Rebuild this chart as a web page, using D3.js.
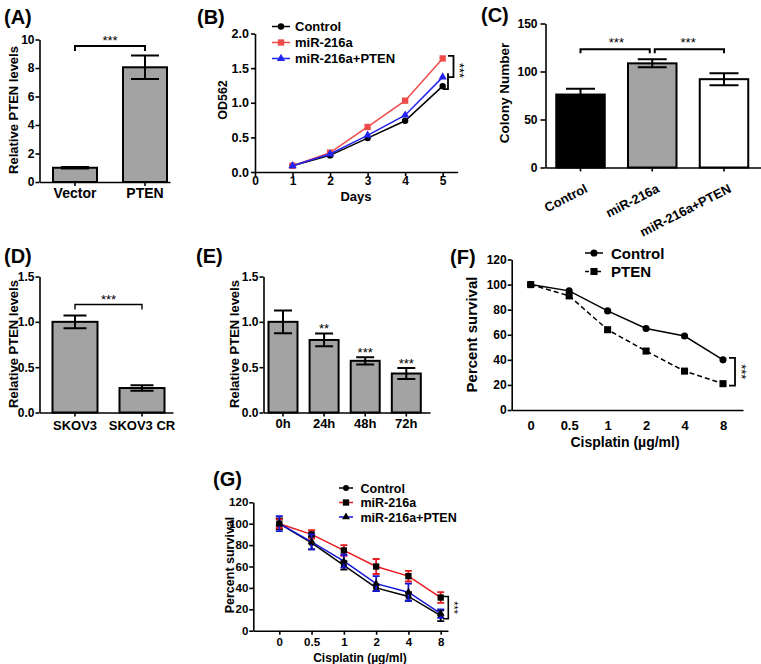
<!DOCTYPE html>
<html><head><meta charset="utf-8">
<script src="https://cdn.jsdelivr.net/npm/d3@7"></script>
<style>body{margin:0;background:#fff} svg{display:block}</style>
</head><body><svg id="c" width="761" height="664"></svg>
<script>
// ---------------- data ----------------
const aCats = ["Vector", "PTEN"];
const aVals = [1.0, 8.05];
const aErr = [0.05, 0.82];
const aTicks = [0, 2, 4, 6, 8, 10];

const bDays = [1, 2, 3, 4, 5];
const bControl = [0.09, 0.24, 0.49, 0.74, 1.24];
const bMiR = [0.09, 0.28, 0.65, 1.03, 1.64];
const bMiRPten = [0.09, 0.26, 0.53, 0.82, 1.37];
const bTicksY = [0, 0.5, 1.0, 1.5, 2.0];
const bTicksX = [0, 1, 2, 3, 4, 5];
const bSeriesNames = ["Control", "miR-216a", "miR-216a+PTEN"];

const cCats = ["Control", "miR-216a", "miR-216a+PTEN"];
const cVals = [76, 108.5, 92];
const cErr = [6, 4.2, 6.3];
const cTicks = [0, 50, 100, 150];

const dCats = ["SKOV3", "SKOV3 CR"];
const dVals = [1.0, 0.27];
const dErr = [0.07, 0.03];
const dTicks = [0, 0.5, 1.0, 1.5];

const eCats = ["0h", "24h", "48h", "72h"];
const eVals = [1.0, 0.80, 0.57, 0.43];
const eErr = [0.125, 0.07, 0.04, 0.06];
const eStars = ["", "**", "***", "***"];

const fDoses = ["0", "0.5", "1", "2", "4", "8"];
const fControl = [100, 95, 79, 65, 59, 40];
const fPten = [100, 91, 64, 47, 31, 21];
const fTicks = [0, 20, 40, 60, 80, 100, 120];
const fSeriesNames = ["Control", "PTEN"];

const gDoses = ["0", "0.5", "1", "2", "4", "8"];
const gControl = [100, 82, 61, 40, 32, 14];
const gControlErr = [5, 6, 4, 3, 4, 5];
const gMiR = [100, 90, 75, 60, 51, 31];
const gMiRErr = [4, 4, 5, 7, 5, 5];
const gPten = [100, 83, 65, 44, 36, 16];
const gPtenErr = [7, 7, 6, 7, 8, 4];
const gTicks = [0, 20, 40, 60, 80, 100, 120];
const gSeriesNames = ["Control", "miR-216a", "miR-216a+PTEN"];

// ---------------- helpers ----------------
const FONT = "Arial, 'Liberation Sans', sans-serif";
const svg = d3.select("#c");

function bandX(cats, x0, x1, c0, c1, bw) {
  const n = cats.length, step = (c1 - c0) / (n - 1);
  const pi = 1 - bw / step;
  const outer = (x1 - x0) - (n - 1) * step - bw;
  return d3.scaleBand().domain(cats).range([x0, x1])
    .paddingInner(pi).paddingOuter(outer / (2 * step)).align((c0 - bw / 2 - x0) / outer);
}
function pointX(cats, x0, x1, c0, c1) {
  const n = cats.length, step = (c1 - c0) / (n - 1);
  const outer = (x1 - x0) - (n - 1) * step;
  return d3.scalePoint().domain(cats).range([x0, x1])
    .padding(outer / (2 * step)).align((c0 - x0) / outer);
}
function styleAxis(sel, fs) {
  sel.select(".domain").attr("stroke", "#000").attr("stroke-width", 1.6);
  sel.selectAll(".tick line").attr("stroke", "#000").attr("stroke-width", 1.6);
  sel.selectAll(".tick text").attr("font-family", FONT).attr("font-weight", "bold")
    .attr("font-size", fs).attr("fill", "#000");
}
function txt(x, y, s, fs, opt = {}) {
  const t = svg.append("text").attr("x", x).attr("y", y).text(s)
    .attr("font-family", FONT).attr("font-weight", opt.weight || "bold")
    .attr("font-size", fs).attr("fill", opt.fill || "#000")
    .attr("text-anchor", opt.anchor || "start");
  if (opt.transform) t.attr("transform", opt.transform);
  if (opt.dy) t.attr("dy", opt.dy);
  return t;
}
function yLabel(cx, cy, s, fs) {
  txt(0, 0, s, fs, { anchor: "middle", dy: "0.35em", transform: `translate(${cx},${cy}) rotate(-90)` });
}
function errPath(cx, y1, y2, cap) {
  return `M${cx},${y1}V${y2}M${cx - cap},${y1}H${cx + cap}M${cx - cap},${y2}H${cx + cap}`;
}

function barPanel(o) {
  const g = svg.append("g");
  const x = bandX(o.cats, o.x0, o.x1, o.c0, o.c1, o.bw);
  const y = d3.scaleLinear().domain([0, o.yMax]).range([o.base, o.top]);
  g.selectAll("rect").data(o.vals).join("rect")
    .attr("x", (d, i) => x(o.cats[i])).attr("width", x.bandwidth())
    .attr("y", d => y(d)).attr("height", d => y(0) - y(d))
    .attr("fill", (d, i) => o.fills[i]).attr("stroke", "#000").attr("stroke-width", 2);
  g.selectAll("path.err").data(o.vals).join("path").attr("class", "err")
    .attr("d", (d, i) => {
      const cx = x(o.cats[i]) + x.bandwidth() / 2;
      return errPath(cx, y(d + o.err[i]), y(d - o.err[i]), o.cap);
    })
    .attr("fill", "none").attr("stroke", "#000").attr("stroke-width", 2);
  const ya = g.append("g").attr("transform", `translate(${o.x0},0)`)
    .call(d3.axisLeft(y).tickValues(o.yTicks).tickFormat(o.yFmt)
      .tickSize(o.yTick || 4).tickPadding(o.yPad || 1).tickSizeOuter(0));
  styleAxis(ya, o.yFs);
  const xa = g.append("g").attr("transform", `translate(0,${o.base})`)
    .call(d3.axisBottom(x).tickSize(4).tickPadding(o.xPad).tickSizeOuter(0));
  styleAxis(xa, o.xFs);
  return { g, x, y, xa };
}

// ---------------- Panel A ----------------
{
  const p = barPanel({ cats: aCats, vals: aVals, err: aErr, x0: 39.5, x1: 170, c0: 75, c1: 145, bw: 44,
    yMax: 10, base: 182, top: 39.5, yTicks: aTicks, yFmt: d3.format("d"), fills: ["#a3a3a3", "#a3a3a3"],
    cap: 14, yFs: 12, xFs: 14, xPad: 2.5 });
  const c0 = p.x(aCats[0]) + p.x.bandwidth() / 2, c1 = p.x(aCats[1]) + p.x.bandwidth() / 2;
  const by = 46;
  svg.append("path").attr("d", `M${c0},${by + 5}V${by}H${c1}V${by + 5}`)
    .attr("fill", "none").attr("stroke", "#000").attr("stroke-width", 2);
  txt((c0 + c1) / 2, by - 1, "***", 13, { anchor: "middle", weight: "normal" });
  txt(4, 24, "(A)", 20);
  yLabel(13.5, 110, "Relative PTEN levels", 13);
}

// ---------------- Panel B ----------------
{
  const x = d3.scaleLinear().domain([0, 5.4]).range([255, 457.7]);
  const y = d3.scaleLinear().domain([0, 2]).range([172, 33.5]);
  const series = [
    { name: bSeriesNames[0], vals: bControl, color: "#000000", sym: d3.symbolCircle, size: 32 },
    { name: bSeriesNames[1], vals: bMiR, color: "#ef4b4b", sym: d3.symbolSquare, size: 40 },
    { name: bSeriesNames[2], vals: bMiRPten, color: "#2323f0", sym: d3.symbolTriangle, size: 30 }
  ];
  const line = d3.line().x((d, i) => x(bDays[i])).y(d => y(d));
  series.forEach(s => {
    svg.append("path").attr("d", line(s.vals)).attr("fill", "none")
      .attr("stroke", s.color).attr("stroke-width", 1.5);
    svg.selectAll(null).data(s.vals).join("path")
      .attr("transform", (d, i) => `translate(${x(bDays[i])},${y(d)})`)
      .attr("d", d3.symbol().type(s.sym).size(s.size)).attr("fill", s.color);
  });
  const ya = svg.append("g").attr("transform", "translate(255,0)")
    .call(d3.axisLeft(y).tickValues(bTicksY).tickFormat(d3.format(".1f")).tickSize(4).tickPadding(2).tickSizeOuter(0));
  styleAxis(ya, 12.5);
  const xa = svg.append("g").attr("transform", "translate(0,172)")
    .call(d3.axisBottom(x).tickValues(bTicksX).tickFormat(d3.format("d")).tickSize(4).tickPadding(0).tickSizeOuter(0));
  styleAxis(xa, 12);
  // legend
  series.forEach((s, i) => {
    const ly = 26.5 + i * 16;
    svg.append("line").attr("x1", 272).attr("x2", 290).attr("y1", ly).attr("y2", ly)
      .attr("stroke", s.color).attr("stroke-width", 1.5);
    svg.append("path").attr("transform", `translate(281,${ly})`)
      .attr("d", d3.symbol().type(s.sym).size(s.size)).attr("fill", s.color);
    txt(295, ly + 4.5, s.name, 13);
  });
  // significance
  const yTop = y(bMiR[4]) - 2.5, yMid = y(bMiRPten[4]) - 4, yBot = y(bControl[4]) + 3;
  svg.append("path").attr("d", `M448,${yTop}H453.5V${yMid + 4}H448M448,${yMid}V${yBot}H443`)
    .attr("fill", "none").attr("stroke", "#000").attr("stroke-width", 1.8);
  txt(0, 0, "***", 13, { anchor: "middle", weight: "normal", transform: `translate(455,${(yTop + yBot) / 2 - 2}) rotate(90)` });
  txt(197, 24, "(B)", 20);
  yLabel(222.5, 100, "OD562", 12.5);
  txt(356, 200.5, "Days", 13, { anchor: "middle" });
}

// ---------------- Panel C ----------------
{
  const p = barPanel({ cats: cCats, vals: cVals, err: cErr, x0: 545.5, x1: 761, c0: 580.5, c1: 724, bw: 48.5,
    yMax: 150, base: 167.5, top: 23.5, yTicks: cTicks, yFmt: d3.format("d"), fills: ["#000000", "#a3a3a3", "#ffffff"],
    cap: 14.5, yFs: 12, xFs: 13, xPad: 2, yTick: 5, yPad: 3 });
  p.xa.selectAll(".tick text").attr("text-anchor", "end").attr("dy", null).attr("y", 0)
    .attr("transform", "translate(8,24) rotate(-27)");
  const cx = cCats.map(c => p.x(c) + p.x.bandwidth() / 2);
  const by = 49.3;
  svg.append("path").attr("d", `M${cx[0]},${by + 4}V${by}H${cx[1] - 2.5}V${by + 4}`)
    .attr("fill", "none").attr("stroke", "#000").attr("stroke-width", 2);
  svg.append("path").attr("d", `M${cx[1] + 2.5},${by + 4}V${by}H${cx[2]}V${by + 4}`)
    .attr("fill", "none").attr("stroke", "#000").attr("stroke-width", 2);
  txt((cx[0] + cx[1]) / 2, by - 2, "***", 13, { anchor: "middle", weight: "normal" });
  txt((cx[1] + cx[2]) / 2, by - 2, "***", 13, { anchor: "middle", weight: "normal" });
  txt(481, 22, "(C)", 20);
  yLabel(504, 93, "Colony Number", 13.5);
}

// ---------------- Panel D ----------------
{
  const p = barPanel({ cats: dCats, vals: dVals, err: dErr, x0: 39.5, x1: 173, c0: 75, c1: 142, bw: 45,
    yMax: 1.5, base: 412.5, top: 276.5, yTicks: dTicks, yFmt: d3.format(".1f"), fills: ["#a3a3a3", "#a3a3a3"],
    cap: 11.5, yFs: 12, xFs: 13, xPad: 4 });
  const c0 = p.x(dCats[0]) + p.x.bandwidth() / 2, c1 = p.x(dCats[1]) + p.x.bandwidth() / 2;
  const by = 304.5;
  svg.append("path").attr("d", `M${c0},${by + 5}V${by}H${c1}V${by + 5}`)
    .attr("fill", "none").attr("stroke", "#000").attr("stroke-width", 1.4);
  txt((c0 + c1) / 2, by - 0.5, "***", 13, { anchor: "middle", weight: "normal" });
  txt(4, 263, "(D)", 20);
  yLabel(13.5, 344, "Relative PTEN levels", 13);
}

// ---------------- Panel E ----------------
{
  const p = barPanel({ cats: eCats, vals: eVals, err: eErr, x0: 263.5, x1: 430, c0: 283, c1: 406.3, bw: 29,
    yMax: 1.5, base: 412.5, top: 276.5, yTicks: dTicks, yFmt: d3.format(".1f"), fills: eCats.map(() => "#a3a3a3"),
    cap: 9, yFs: 12, xFs: 13, xPad: 2.5 });
  eStars.forEach((s, i) => {
    if (!s) return;
    const cx = p.x(eCats[i]) + p.x.bandwidth() / 2;
    txt(cx, p.y(eVals[i] + eErr[i]) - 0.5, s, 13, { anchor: "middle", weight: "normal" });
  });
  txt(196, 263, "(E)", 20);
  yLabel(234, 344, "Relative PTEN levels", 13);
}

// ---------------- Panel F ----------------
{
  const x = pointX(fDoses, 511.7, 743, 530.7, 723);
  const y = d3.scaleLinear().domain([0, 120]).range([410, 259.5]);
  const series = [
    { name: fSeriesNames[0], vals: fControl, sym: d3.symbolCircle, size: 40, dash: null },
    { name: fSeriesNames[1], vals: fPten, sym: d3.symbolSquare, size: 50, dash: "5,3" }
  ];
  const line = d3.line().x((d, i) => x(fDoses[i])).y(d => y(d));
  series.forEach(s => {
    svg.append("path").attr("d", line(s.vals)).attr("fill", "none").attr("stroke", "#000")
      .attr("stroke-width", 1.5).attr("stroke-dasharray", s.dash);
    svg.selectAll(null).data(s.vals).join("path")
      .attr("transform", (d, i) => `translate(${x(fDoses[i])},${y(d)})`)
      .attr("d", d3.symbol().type(s.sym).size(s.size)).attr("fill", "#000");
  });
  const ya = svg.append("g").attr("transform", "translate(511.7,0)")
    .call(d3.axisLeft(y).tickValues(fTicks).tickFormat(d3.format("d")).tickSize(4).tickPadding(1).tickSizeOuter(0));
  styleAxis(ya, 12);
  const xa = svg.append("g").attr("transform", "translate(0,410)")
    .call(d3.axisBottom(x).tickSize(0).tickPadding(10.5).tickSizeOuter(0));
  styleAxis(xa, 13);
  series.forEach((s, i) => {
    const ly = 253 + i * 18.5;
    svg.append("line").attr("x1", 585).attr("x2", 603).attr("y1", ly).attr("y2", ly)
      .attr("stroke", "#000").attr("stroke-width", 1.5).attr("stroke-dasharray", s.dash ? "4,2" : null);
    svg.append("path").attr("transform", `translate(594,${ly})`)
      .attr("d", d3.symbol().type(s.sym).size(s.size)).attr("fill", "#000");
    txt(611, ly + 5.5, s.name, 15);
  });
  const yTop = y(fControl[5]) - 2, yBot = y(fPten[5]) + 2;
  svg.append("path").attr("d", `M729,${yTop}H735V${yBot}H729`)
    .attr("fill", "none").attr("stroke", "#000").attr("stroke-width", 1.8);
  txt(0, 0, "***", 13, { anchor: "middle", weight: "normal", transform: `translate(736.5,${(yTop + yBot) / 2}) rotate(90)` });
  txt(450, 264, "(F)", 20);
  yLabel(472, 334.5, "Percent survival", 15);
  txt(625, 447, "Cisplatin (µg/ml)", 14, { anchor: "middle" });
}

// ---------------- Panel G ----------------
{
  const x = pointX(gDoses, 253.3, 448, 279.3, 440.7);
  const y = d3.scaleLinear().domain([0, 120]).range([630.7, 502.3]);
  const series = [
    { name: gSeriesNames[0], vals: gControl, err: gControlErr, color: "#000000", sym: d3.symbolCircle, size: 28 },
    { name: gSeriesNames[1], vals: gMiR, err: gMiRErr, color: "#e8191f", sym: d3.symbolSquare, size: 40 },
    { name: gSeriesNames[2], vals: gPten, err: gPtenErr, color: "#1515d8", sym: d3.symbolTriangle, size: 26 }
  ];
  const line = d3.line().x((d, i) => x(gDoses[i])).y(d => y(d));
  series.forEach(s => {
    svg.append("path").attr("d", line(s.vals)).attr("fill", "none")
      .attr("stroke", s.color).attr("stroke-width", 1.5);
    svg.selectAll(null).data(s.vals).join("path")
      .attr("d", (d, i) => errPath(x(gDoses[i]), y(d + s.err[i]), y(d - s.err[i]), 3.5))
      .attr("fill", "none").attr("stroke", s.color).attr("stroke-width", 1.8);
    svg.selectAll(null).data(s.vals).join("path")
      .attr("transform", (d, i) => `translate(${x(gDoses[i])},${y(d)})`)
      .attr("d", d3.symbol().type(s.sym).size(s.size)).attr("fill", "#000");
  });
  const ya = svg.append("g").attr("transform", "translate(253.3,0)")
    .call(d3.axisLeft(y).tickValues(gTicks).tickFormat(d3.format("d")).tickSize(4).tickPadding(1).tickSizeOuter(0));
  styleAxis(ya, 11.5);
  const xa = svg.append("g").attr("transform", "translate(0,630.7)")
    .call(d3.axisBottom(x).tickSize(4).tickPadding(3).tickSizeOuter(0));
  styleAxis(xa, 11.5);
  [488, 502.5, 517].forEach((ly, i) => {
    const s = series[i];
    svg.append("line").attr("x1", 339).attr("x2", 353).attr("y1", ly).attr("y2", ly)
      .attr("stroke", s.color).attr("stroke-width", 1.5);
    svg.append("path").attr("transform", `translate(346,${ly})`)
      .attr("d", d3.symbol().type(s.sym).size(s.size)).attr("fill", "#000");
    txt(360.5, ly + 4.5, s.name, 12.5);
  });
  const yTop = y(gMiR[5]) - 1, yBot = y(gControl[5]) + 3;
  svg.append("path").attr("d", `M443,${yTop}H448.3V${yBot}H443`)
    .attr("fill", "none").attr("stroke", "#000").attr("stroke-width", 1.6);
  txt(0, 0, "***", 11, { anchor: "middle", weight: "normal", transform: `translate(450,${(yTop + yBot) / 2}) rotate(90)` });
  txt(213, 486, "(G)", 20);
  yLabel(230, 565, "Percent survival", 12.5);
  txt(360, 662, "Cisplatin (µg/ml)", 12, { anchor: "middle" });
}
</script>
</body></html>
